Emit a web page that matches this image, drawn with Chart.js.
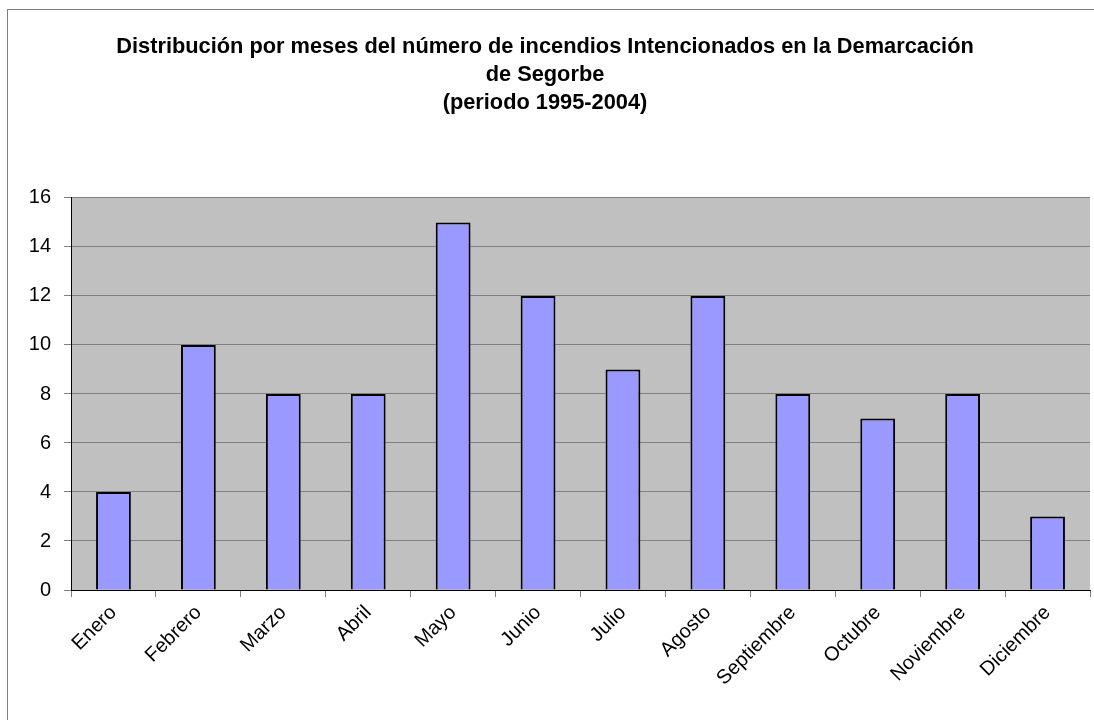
<!DOCTYPE html>
<html>
<head>
<meta charset="utf-8">
<script src="https://cdn.jsdelivr.net/npm/chart.js@4/dist/chart.umd.min.js"></script>
<style>
  html, body { margin: 0; padding: 0; background: #fff; }
  #wrap { width: 1094px; height: 720px; position: relative; }
</style>
</head>
<body>
<div id="wrap"><canvas id="myChart" width="1094" height="720"></canvas></div>
<script>
var months = ['Enero', 'Febrero', 'Marzo', 'Abril', 'Mayo', 'Junio', 'Julio', 'Agosto', 'Septiembre', 'Octubre', 'Noviembre', 'Diciembre'];
var fires = [4, 10, 8, 8, 15, 12, 9, 12, 8, 7, 8, 3];
var titleLines = ['Distribución por meses del número de incendios Intencionados en la Demarcación', 'de Segorbe', '(periodo 1995-2004)'];
var yMin = 0, yMax = 16, yStep = 2;

// gray plot background + outer frame
var plotBg = {
	id: 'plotBg',
	beforeDraw: function(chart) {
		var ctx = chart.ctx, a = chart.chartArea;
		ctx.save();
		ctx.strokeStyle = '#7f7f7f';
		ctx.lineWidth = 1;
		ctx.strokeRect(7.5, 9.5, 1200, 800);
		ctx.fillStyle = '#c0c0c0';
		ctx.fillRect(a.left, a.top, a.right - a.left, a.bottom - a.top);
		ctx.restore();
	}
};

var ctx = document.getElementById('myChart').getContext('2d');
var myChart = new Chart(ctx, {
	type: 'bar',
	data: {
		labels: months,
		datasets: [{
			label: 'Incendios',
			data: fires,
			backgroundColor: '#9999ff',
			borderColor: '#000000',
			borderWidth: 2,
			barPercentage: 0.41,
			categoryPercentage: 1.0
		}]
	},
	options: {
		responsive: false,
		animation: false,
		layout: { padding: { left: 0, right: 4, top: 0, bottom: 0 } },
		plugins: {
			legend: { display: false },
			tooltip: { enabled: false },
			title: {
				display: true,
				text: titleLines,
				color: '#000',
				font: { family: 'Liberation Sans, Arial, sans-serif', size: 21.8, weight: 'bold', lineHeight: 1.284 },
				padding: { top: 33, bottom: 81 }
			}
		},
		scales: {
			x: {
				grid: { offset: true, drawOnChartArea: false, drawTicks: true, tickLength: 7, color: '#808080' },
				border: { color: '#000', width: 1 },
				ticks: {
					color: '#000',
					maxRotation: 45,
					minRotation: 45,
					padding: 4,
					font: { family: 'Liberation Sans, Arial, sans-serif', size: 20 }
				},
				afterFit: function(scale) { scale.height = 130; }
			},
			y: {
				min: yMin,
				max: yMax,
				grid: { color: '#808080', tickColor: '#808080', tickLength: 7 },
				border: { color: '#000', width: 1 },
				ticks: {
					stepSize: yStep,
					color: '#000',
					padding: 13,
					font: { family: 'Liberation Sans, Arial, sans-serif', size: 20 }
				},
				afterFit: function(scale) { scale.width = 71; }
			}
		}
	},
	plugins: [plotBg]
});
</script>
</body>
</html>
